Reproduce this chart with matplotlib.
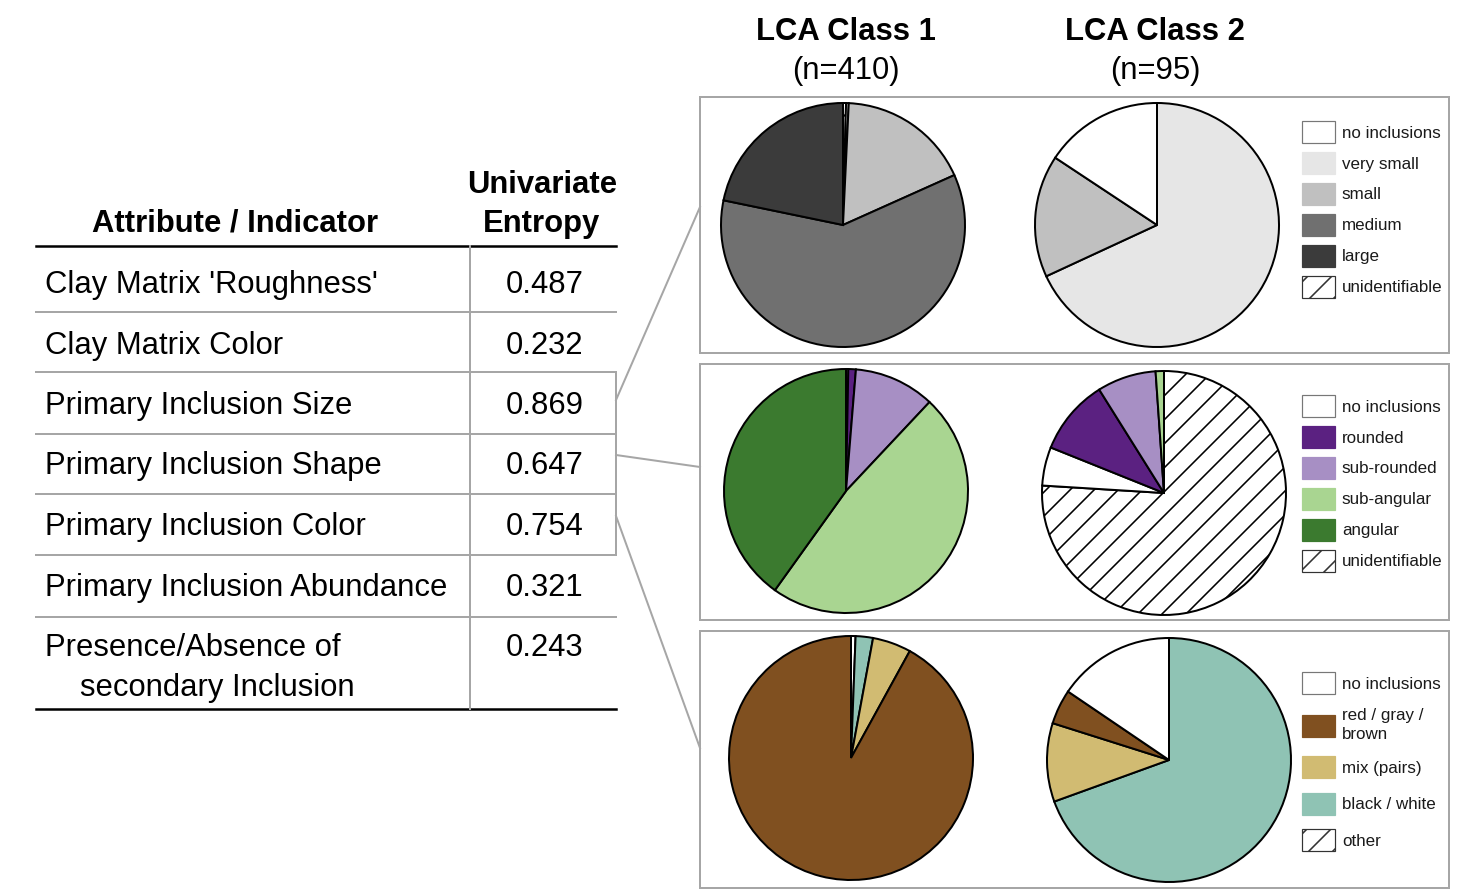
import matplotlib.pyplot as plt
import matplotlib.patches as mpatches

plt.rcParams['font.family'] = ['Liberation Sans', 'DejaVu Sans']
plt.rcParams['hatch.linewidth'] = 1.6

W, H = 1469, 892

# table data
attributes = ["Clay Matrix 'Roughness'", "Clay Matrix Color", "Primary Inclusion Size",
              "Primary Inclusion Shape", "Primary Inclusion Color",
              "Primary Inclusion Abundance", "Presence/Absence of"]
entropy = ["0.487", "0.232", "0.869", "0.647", "0.754", "0.321", "0.243"]

class_titles = ["LCA Class 1", "LCA Class 2"]
class_n = [410, 95]

# legend entries per panel
size_labels = ["no inclusions", "very small", "small", "medium", "large", "unidentifiable"]
shape_labels = ["no inclusions", "rounded", "sub-rounded", "sub-angular", "angular", "unidentifiable"]
color_labels = ["no inclusions", "red / gray /\nbrown", "mix (pairs)", "black / white", "other"]

colors = {
    "no inclusions": "white", "very small": "#e6e6e6", "small": "#c0c0c0",
    "medium": "#707070", "large": "#3b3b3b", "unidentifiable": "white",
    "rounded": "#5b2181", "sub-rounded": "#a78fc4", "sub-angular": "#a9d591",
    "angular": "#3b7a2f", "red / gray /\nbrown": "#805020", "mix (pairs)": "#d1bb72",
    "black / white": "#8fc3b4", "other": "white",
}
hatched = ["unidentifiable", "other"]

# pie slices, clockwise from 12 o'clock (percent)
size_c1_lab = ["unidentifiable", "no inclusions", "small", "medium", "large"]
size_c1 = [0.4, 0.35, 17.5, 59.8, 21.7]
size_c2_lab = ["very small", "small", "no inclusions"]
size_c2 = [68.1, 16.2, 15.7]

shape_c1_lab = ["no inclusions", "rounded", "sub-rounded", "sub-angular", "angular"]
shape_c1 = [0.3, 1.0, 10.7, 47.9, 40.1]
shape_c2_lab = ["unidentifiable", "no inclusions", "rounded", "sub-rounded", "sub-angular"]
shape_c2 = [75.9, 5.1, 10.0, 7.8, 1.1]

color_c1_lab = ["no inclusions", "black / white", "mix (pairs)", "red / gray /\nbrown"]
color_c1 = [0.6, 2.3, 5.1, 92.0]
color_c2_lab = ["black / white", "mix (pairs)", "red / gray /\nbrown", "no inclusions"]
color_c2 = [69.4, 10.4, 4.6, 15.5]

fig = plt.figure(figsize=(W / 72, H / 72), dpi=72)
ov = fig.add_axes([0, 0, 1, 1], zorder=0)
ov.set_xlim(0, W)
ov.set_ylim(H, 0)
ov.axis('off')

gray = '#a6a6a6'
fs = 31

# table
ov.text(235, 232, "Attribute / Indicator", fontsize=fs, fontweight='bold', ha='center', va='baseline')
ov.text(542, 193, "Univariate", fontsize=fs, fontweight='bold', ha='center', va='baseline')
ov.text(542, 232, "Entropy", fontsize=fs, fontweight='bold', ha='center', va='baseline')
ov.plot([36, 616], [246, 246], color='black', lw=2.5)
ov.plot([36, 616], [709, 709], color='black', lw=2.5)
row_lines = [312, 372, 434, 494, 555, 617]
for y in row_lines:
    ov.plot([36, 616], [y, y], color=gray, lw=2)
ov.plot([470.5, 470.5], [246, 709], color=gray, lw=2)
ov.plot([616, 616], [372, 555], color=gray, lw=2)

baselines = [293, 354, 414, 474, 535, 596, 656]
for name, val, y in zip(attributes, entropy, baselines):
    ov.text(45, y, name, fontsize=fs, va='baseline')
    ov.text(545, y, val, fontsize=fs, ha='center', va='baseline')
ov.text(80, 696, "secondary Inclusion", fontsize=fs, va='baseline')

# connectors to panels
ov.plot([616, 700], [400, 207], color=gray, lw=2)
ov.plot([616, 700], [455, 467], color=gray, lw=2)
ov.plot([616, 700], [516, 748], color=gray, lw=2)

# panel boxes
for top, bot in [(97, 353), (364, 620), (631, 888)]:
    ov.add_patch(mpatches.Rectangle((700, top), 749, bot - top, fill=False, edgecolor=gray, lw=2))

# column titles
for x, t, n in zip([846, 1155], class_titles, class_n):
    ov.text(x, 40, t, fontsize=fs, fontweight='bold', ha='center', va='baseline')
    ov.text(x, 79, f"(n={n})", fontsize=fs, ha='center', va='baseline')


def draw_pie(cx, cy, labs, vals, r=122):
    pad = 1.03
    ax = fig.add_axes([(cx - r * pad) / W, 1 - (cy + r * pad) / H, 2 * r * pad / W, 2 * r * pad / H], zorder=2)
    ax.pie(vals, colors=[colors[l] for l in labs], startangle=90, counterclock=False,
           hatch=['/' if l in hatched else '' for l in labs],
           wedgeprops=dict(edgecolor='black', linewidth=2))
    ax.set_xlim(-pad, pad)
    ax.set_ylim(-pad, pad)
    ax.set_aspect('equal')
    return ax


def draw_legend(ax, labels, top, spacing):
    handles = []
    for l in labels:
        if l in hatched:
            handles.append(mpatches.Patch(facecolor='white', edgecolor='#333333', hatch='/', lw=1.2, label=l))
        elif l == "no inclusions":
            handles.append(mpatches.Patch(facecolor='white', edgecolor='#777777', lw=1.2, label=l))
        else:
            handles.append(mpatches.Patch(facecolor=colors[l], edgecolor=colors[l], lw=1.2, label=l))
    leg = ax.legend(handles=handles, loc='upper left', bbox_to_anchor=(1302, top),
                    bbox_transform=ov.transData, frameon=False, fontsize=17,
                    handlelength=1.95, handleheight=1.61, handletextpad=0.4,
                    labelspacing=spacing, borderpad=0, borderaxespad=0, labelcolor='#1a1a1a')
    for t in leg.get_texts():
        t.set_linespacing(1.3)
    return leg


draw_pie(843, 225, size_c1_lab, size_c1)
a = draw_pie(1157, 225, size_c2_lab, size_c2)
draw_legend(a, size_labels, 121, 0.53)

draw_pie(846, 491, shape_c1_lab, shape_c1)
a = draw_pie(1164, 493, shape_c2_lab, shape_c2)
draw_legend(a, shape_labels, 395, 0.53)

draw_pie(851, 758, color_c1_lab, color_c1)
a = draw_pie(1169, 760, color_c2_lab, color_c2)
draw_legend(a, color_labels, 672, 0.85)

fig.savefig("out.png", dpi=72)
